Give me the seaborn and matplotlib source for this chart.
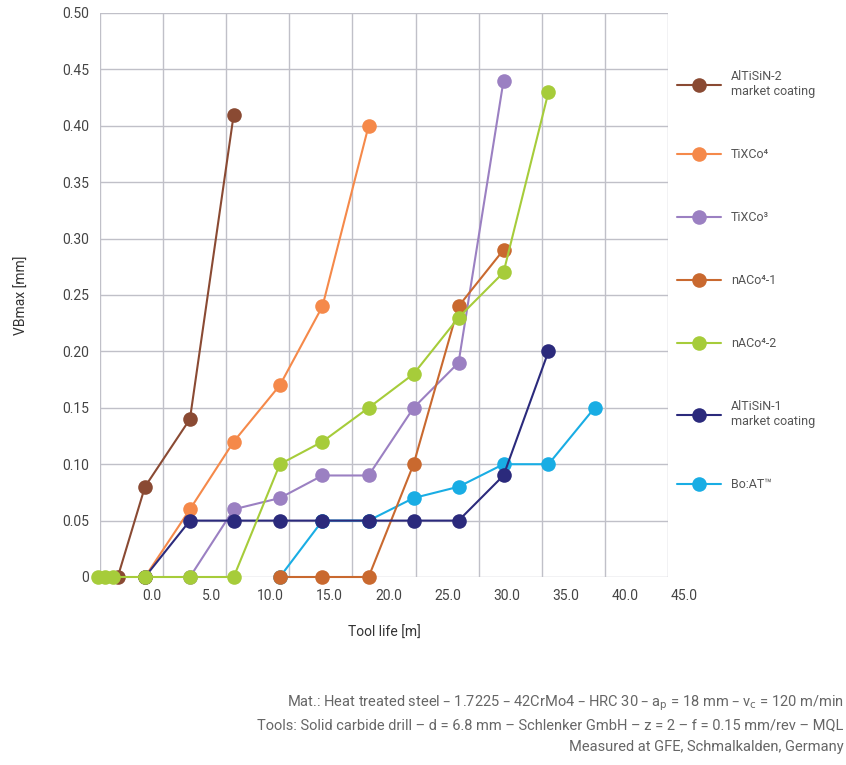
import numpy as np
import matplotlib
matplotlib.use("Agg")
import matplotlib.pyplot as plt
from matplotlib import font_manager
import seaborn as sns

# wear curves (tool life [m] vs VBmax [mm])
altisin2_x = [-2.9, -0.6, 3.2, 6.9]
altisin2_y = [0, 0.08, 0.14, 0.41]

tixco4_x = [-0.6, 3.2, 6.9, 10.8, 14.4, 18.3]
tixco4_y = [0, 0.06, 0.12, 0.17, 0.24, 0.40]

tixco3_x = [3.2, 6.9, 10.8, 14.4, 18.3, 22.1, 25.9, 29.7]
tixco3_y = [0, 0.06, 0.07, 0.09, 0.09, 0.15, 0.19, 0.44]

naco1_x = [10.8, 14.4, 18.3, 22.1, 25.9, 29.7]
naco1_y = [0, 0, 0, 0.10, 0.24, 0.29]

naco2_x = [-4.6, -4.0, -3.3, -0.6, 3.2, 6.9, 10.8, 14.4, 18.3, 22.1, 25.9, 29.7, 33.5]
naco2_y = [0, 0, 0, 0, 0, 0, 0.10, 0.12, 0.15, 0.18, 0.23, 0.27, 0.43]

altisin1_x = [-0.6, 3.2, 6.9, 10.8, 14.4, 18.3, 22.1, 25.9, 29.7, 33.5]
altisin1_y = [0, 0.05, 0.05, 0.05, 0.05, 0.05, 0.05, 0.05, 0.09, 0.20]

boat_x = [10.8, 14.4, 18.3, 22.1, 25.9, 29.7, 33.5, 37.4]
boat_y = [0, 0.05, 0.05, 0.07, 0.08, 0.10, 0.10, 0.15]

labels = ["AlTiSiN-2\nmarket coating", "TiXCo\u2074", "TiXCo\u00b3", "nACo\u2074-1",
          "nACo\u2074-2", "AlTiSiN-1\nmarket coating", "Bo:AT\u2122"]
colors = ["#8a4a33", "#f5894a", "#9b80c2", "#c9692f", "#a6cc3a", "#2b2a7c", "#19ade4"]

xticks = [0, 5, 10, 15, 20, 25, 30, 35, 40]
yticks = [0, 0.05, 0.10, 0.15, 0.20, 0.25, 0.30, 0.35, 0.40, 0.45, 0.50]

series = [(altisin2_x, altisin2_y), (tixco4_x, tixco4_y), (tixco3_x, tixco3_y),
          (naco1_x, naco1_y), (naco2_x, naco2_y), (altisin1_x, altisin1_y), (boat_x, boat_y)]
zorders = [5, 4, 3, 3.5, 7, 6, 2]

sns.set_style("white")
names = {f.name for f in font_manager.fontManager.ttflist}
base = "Liberation Sans Narrow" if "Liberation Sans Narrow" in names else "Roboto"
plt.rcParams["font.family"] = [base, "DejaVu Sans"]

fig = plt.figure(figsize=(8.46, 7.65), dpi=100)
ax = fig.add_axes([100 / 846, 188 / 765, 568 / 846, 564 / 765])

for (xs, ys), lab, c, z in zip(series, labels, colors, zorders):
    sns.lineplot(x=xs, y=ys, ax=ax, color=c, marker="o", markersize=10.5,
                 markeredgewidth=0, linewidth=1.5, label=lab, clip_on=False,
                 zorder=z, sort=False)

xmin, xmax = -4.4, 43.6
ax.set_xlim(xmin, xmax)
ax.set_ylim(0, 0.5)

ax.set_xticks(xticks)
ax.set_xticklabels([f"{t:.1f}" for t in xticks])
ax.set_yticks(yticks)
ax.set_yticklabels(["0"] + [f"{t:.2f}" for t in yticks[1:]])
ax.set_xticks(np.linspace(xmin, xmax, 10), minor=True)
ax.tick_params(axis="both", which="both", length=0, labelsize=10, colors="#444444")
ax.tick_params(axis="x", pad=9)
ax.tick_params(axis="y", pad=8)
ax.grid(axis="y", which="major", color="#c0c0c8", linewidth=1)
ax.grid(axis="x", which="minor", color="#c0c0c8", linewidth=1)
ax.grid(axis="x", which="major", visible=False)
for s in ax.spines.values():
    s.set_visible(False)

ax.text(45, -12.5 / 564, "45.0", transform=ax.get_xaxis_transform(), ha="center",
        va="top", fontsize=10, color="#444444")

ax.set_xlabel("Tool life [m]", fontsize=10, color="#333333", labelpad=16)
ax.set_ylabel("VBmax [mm]", fontsize=10, color="#333333", labelpad=24)

handles, labs = ax.get_legend_handles_labels()
ax.legend(handles, labs, loc="upper left", bbox_to_anchor=(677 / 846, 1 - 70 / 765),
          bbox_transform=fig.transFigure, frameon=False, fontsize=9,
          handlelength=3.5, handletextpad=0.8, labelspacing=4.0,
          borderpad=0, borderaxespad=0, labelcolor="#555555")

notes = [
    "Mat.: Heat treated steel \u2013 1.7225 \u2013 42CrMo4 \u2013 HRC 30 \u2013 a$_\\mathrm{p}$ = 18 mm \u2013 v$_\\mathrm{c}$ = 120 m/min",
    "Tools: Solid carbide drill \u2013 d = 6.8 mm \u2013 Schlenker GmbH \u2013 z = 2 \u2013 f = 0.15 mm/rev \u2013 MQL",
    "Measured at GFE, Schmalkalden, Germany",
]
for i, t in enumerate(notes):
    fig.text(0.997, 1 - (703 + 22 * i) / 765, t, ha="right", va="center",
             fontsize=10.5, color="#666666")

fig.savefig("out.png", dpi=100)
